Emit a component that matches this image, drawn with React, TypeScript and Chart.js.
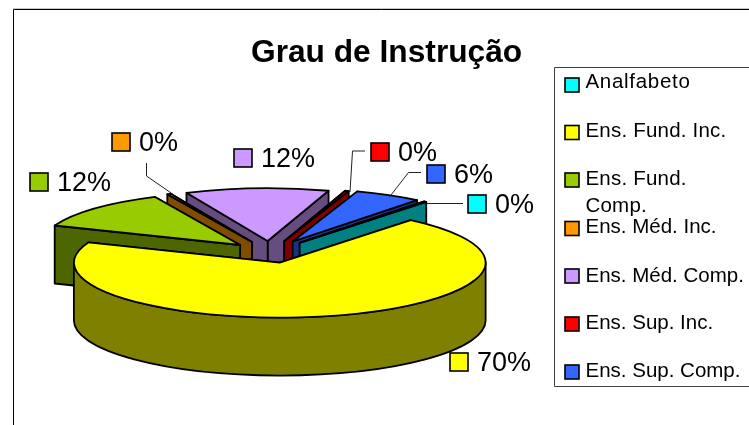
import React, { useEffect, useRef } from "react";
import { Chart, registerables } from "chart.js";

Chart.register(...registerables);

const titleText = "Grau de Instrução";
const categories = ["Analfabeto", "Ens. Fund. Inc.", "Ens. Fund. Comp.", "Ens. Méd. Inc.", "Ens. Méd. Comp.", "Ens. Sup. Inc.", "Ens. Sup. Comp."];
const values = [0.2, 70, 12, 0.3, 11.7, 0.3, 5.5];
const topColors = ["#00FFFF", "#FFFF00", "#99CC00", "#FF9900", "#CC99FF", "#FF0000", "#3366FF"];
const wallColors = ["#008080", "#808000", "#4D6600", "#804D00", "#664D80", "#800000", "#1A3380"];
const sliceOffsets = [47, 39, 41, 43, 43, 45, 47];

const FONT = '"Liberation Sans", Arial, sans-serif';
const SQUASH = 0.267;
const DEPTH = 58;

const legendLines = [["Analfabeto"], ["Ens. Fund. Inc."], ["Ens. Fund.", "Comp."], ["Ens. Méd. Inc."], ["Ens. Méd. Comp."], ["Ens. Sup. Inc."], ["Ens. Sup. Comp."]];
const legendTracking = ["0.7px", "0.2px", "0.2px", "0px", "0px", "0px", "0px"];
const legendSwatchTops = [78, 125.5, 173, 221.5, 269, 317, 365];
const legendBaselines = [88, 137, 185, 233, 281.5, 329, 377];

const labelSwatches = [[468, 195], [450, 353], [30, 173], [112, 133], [234, 149], [371, 143], [427, 165]];
const leaders = [
  [[463, 203.5], [427, 203.5]],
  [],
  [],
  [[146.5, 163], [146.5, 176], [174, 195]],
  [],
  [[365, 151], [352.5, 151], [350, 192]],
  [[421, 172.5], [408.5, 172.5], [389.5, 197]],
];

const pie3d = {
  id: "pie3d",
  beforeDatasetsDraw(chart: any) {
    const ctx = chart.ctx;
    const arcs = chart.getDatasetMeta(0).data as any[];
    const order = arcs
      .map((el: any, i: number) => ({ el, i, mid: (el.startAngle + el.endAngle) / 2 }))
      .sort((a: any, b: any) => Math.sin(a.mid) - Math.sin(b.mid));
    ctx.save();
    ctx.lineJoin = "round";
    ctx.lineWidth = 1.8;
    ctx.strokeStyle = "#000";
    for (const { el, i, mid } of order) {
      const off = el.options.offset;
      // slices nearer the viewer look slightly larger
      const R = el.outerRadius + 4 * Math.sin(mid);
      const ox = el.x + off * Math.cos(mid);
      const oy = el.y + off * Math.sin(mid) * SQUASH;
      const px = (a: number) => ox + R * Math.cos(a);
      const py = (a: number) => oy + R * Math.sin(a) * SQUASH;
      const a0 = el.startAngle;
      const a1 = el.endAngle;
      const paint = (fill: string) => {
        ctx.fillStyle = fill;
        ctx.fill();
        ctx.stroke();
      };
      const radial = (a: number) => {
        ctx.beginPath();
        ctx.moveTo(ox, oy);
        ctx.lineTo(px(a), py(a));
        ctx.lineTo(px(a), py(a) + DEPTH);
        ctx.lineTo(ox, oy + DEPTH);
        ctx.closePath();
        paint(wallColors[i]);
      };
      // rear cut face first, so the nearer one covers it
      if (Math.sin(a0) < Math.sin(a1)) {
        radial(a0);
        radial(a1);
      } else {
        radial(a1);
        radial(a0);
      }
      // outer rim: only the part that faces the viewer
      for (let k = 0; k <= 2; k++) {
        const lo = Math.max(a0, 2 * k * Math.PI);
        const hi = Math.min(a1, 2 * k * Math.PI + Math.PI);
        if (hi > lo) {
          ctx.beginPath();
          ctx.ellipse(ox, oy, R, R * SQUASH, 0, lo, hi);
          ctx.ellipse(ox, oy + DEPTH, R, R * SQUASH, 0, hi, lo, true);
          ctx.closePath();
          paint(wallColors[i]);
        }
      }
      ctx.beginPath();
      ctx.moveTo(ox, oy);
      ctx.ellipse(ox, oy, R, R * SQUASH, 0, a0, a1);
      ctx.closePath();
      paint(topColors[i]);
    }
    ctx.restore();
    return false;
  },
  afterDraw(chart: any) {
    const ctx = chart.ctx;
    const total = values.reduce((s, v) => s + v, 0);
    ctx.save();
    ctx.textBaseline = "alphabetic";
    ctx.textAlign = "left";
    // chart frame
    ctx.strokeStyle = "#C8C8C8";
    ctx.lineWidth = 1;
    ctx.beginPath();
    ctx.moveTo(13, 8.5);
    ctx.lineTo(749, 8.5);
    ctx.stroke();
    ctx.strokeStyle = "#000";
    ctx.beginPath();
    ctx.moveTo(749, 9.5);
    ctx.lineTo(13.5, 9.5);
    ctx.lineTo(13.5, 425);
    ctx.stroke();
    // title
    ctx.fillStyle = "#000";
    ctx.font = `bold 31.7px ${FONT}`;
    ctx.fillText(titleText, 251, 62);
    // leader lines
    ctx.strokeStyle = "#222";
    ctx.lineWidth = 1;
    leaders.forEach((pts) => {
      if (!pts.length) return;
      ctx.beginPath();
      pts.forEach((p, k) => (k ? ctx.lineTo(p[0], p[1]) : ctx.moveTo(p[0], p[1])));
      ctx.stroke();
    });
    // percentage labels
    ctx.font = `27px ${FONT}`;
    categories.forEach((_, i) => {
      const [x, y] = labelSwatches[i];
      ctx.fillStyle = topColors[i];
      ctx.fillRect(x, y, 18, 18);
      ctx.strokeStyle = "#000";
      ctx.lineWidth = 1.6;
      ctx.strokeRect(x, y, 18, 18);
      ctx.fillStyle = "#000";
      ctx.fillText(`${Math.round((values[i] / total) * 100)}%`, x + 27, y + 18);
    });
    // legend
    ctx.strokeStyle = "#404040";
    ctx.lineWidth = 1;
    ctx.beginPath();
    ctx.moveTo(749, 67.5);
    ctx.lineTo(554.5, 67.5);
    ctx.lineTo(554.5, 386.5);
    ctx.lineTo(749, 386.5);
    ctx.stroke();
    ctx.font = `20.5px ${FONT}`;
    categories.forEach((_, i) => {
      const top = legendSwatchTops[i];
      ctx.fillStyle = topColors[i];
      ctx.fillRect(565, top, 14, 14);
      ctx.strokeStyle = "#000";
      ctx.lineWidth = 1.6;
      ctx.strokeRect(565, top, 14, 14);
      ctx.fillStyle = "#000";
      ctx.letterSpacing = legendTracking[i];
      legendLines[i].forEach((line, k) => ctx.fillText(line, 585.5, legendBaselines[i] + k * 27));
      ctx.letterSpacing = "0px";
    });
    ctx.restore();
  },
};

export default function App() {
  const ref = useRef<HTMLCanvasElement>(null);
  useEffect(() => {
    const chart = new Chart(ref.current as HTMLCanvasElement, {
      type: "pie",
      data: {
        labels: categories,
        datasets: [{ data: values, backgroundColor: topColors, borderColor: "#000", borderWidth: 0, offset: sliceOffsets }],
      },
      options: {
        responsive: false,
        animation: false,
        rotation: 38.8,
        radius: 202,
        layout: { padding: { left: 0, right: 209, top: 80, bottom: 0 } },
        plugins: { legend: { display: false }, title: { display: false }, tooltip: { enabled: false } },
      },
      plugins: [pie3d],
    } as any);
    return () => chart.destroy();
  }, []);
  return (
    <canvas
      ref={ref}
      width={749}
      height={425}
      style={{ position: "absolute", left: 0, top: 0, display: "block", background: "#fff" }}
    />
  );
}
